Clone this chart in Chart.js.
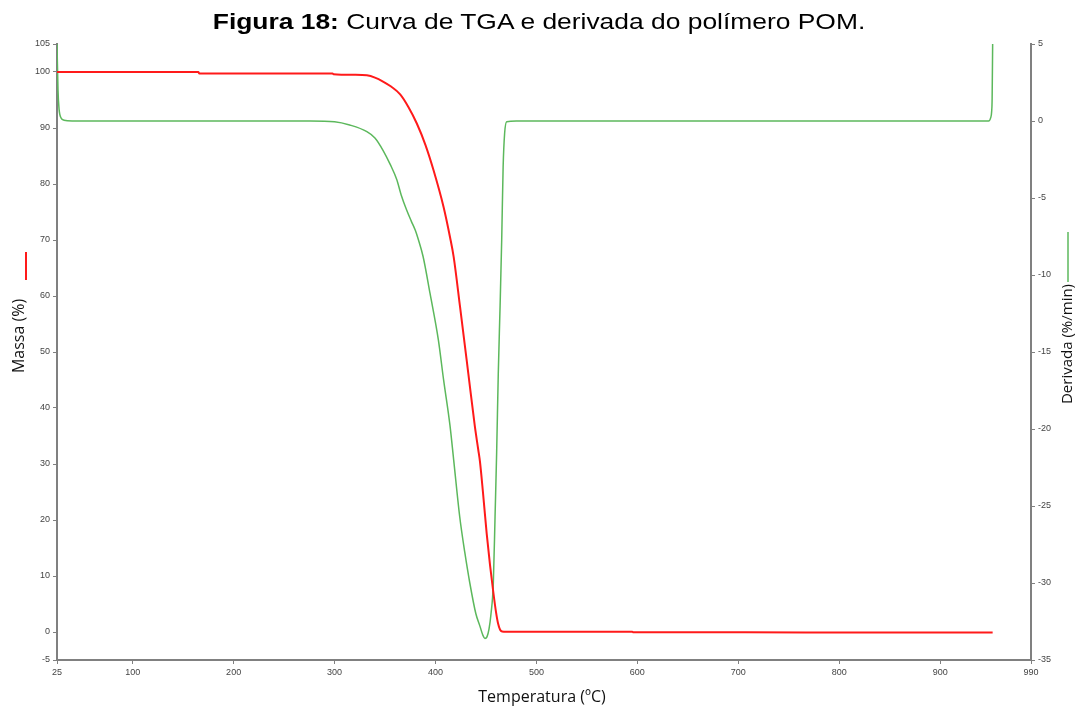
<!DOCTYPE html>
<html lang="pt">
<head>
    <meta charset="UTF-8" />
    <title>Figura 18 - TGA POM</title>
    <script src="https://cdn.jsdelivr.net/npm/chart.js"></script>
    <style>
        body { margin: 0; background: #fff; }
        .wrap { position: relative; width: 1080px; height: 708px; }
        .titulo { position: absolute; top: 9px; left: 0; width: 1080px; text-align: center;
                  font-family: 'Liberation Sans', Arial, sans-serif; font-size: 22px; color: #000;
                  transform: scaleX(1.2); transform-origin: 545px 0; }
        canvas { position: absolute; left: 0; top: 0; }
    </style>
</head>
<body>
<div class="wrap">
    <canvas id="tga" width="1080" height="708"></canvas>
    <div class="titulo"><b>Figura 18:</b> Curva de TGA e derivada do polímero POM.</div>
</div>
<script>
    // dados
    const massaTemp = [25, 165, 166, 298, 299, 320, 332, 340, 348, 356, 365, 373, 381.5, 390, 398, 408, 414.4, 418,
        424.3, 432.5, 439, 442.4, 444, 447, 450.7, 454, 457, 460, 462, 464, 466, 470, 595, 596, 700, 800, 900, 952];
    const massaValores = [100, 100, 99.75, 99.75, 99.6, 99.5, 99.4, 99.0, 98.3, 97.4, 96.0, 93.8, 90.8, 87.0, 82.5, 75.9, 70.5, 67,
        58.1, 46.2, 36.7, 32.5, 30.5, 25, 17.6, 12, 7.5, 3.5, 1.5, 0.4, 0.1, 0.05, 0.05, -0.05, -0.05, -0.08, -0.1, -0.1];

    const derivTemp = [25, 26, 27, 29, 32, 40, 100, 200, 276, 300, 315, 332, 340, 348, 355, 361.6, 366, 371.5, 376, 380, 383,
        387.7, 394.6, 402.8, 408, 414.4, 418, 424, 429, 434, 440, 444, 447, 449, 451, 453, 455, 457.3, 459, 460.6, 462.2,
        464, 465.6, 467, 468.5, 470.5, 480, 600, 800, 948, 950, 951, 951.5, 952];
    const derivValores = [5, 2, 0.8, 0.2, 0.05, 0, 0, 0, 0, -0.05, -0.26, -0.69, -1.1, -1.9, -2.8, -3.8, -4.8, -5.8, -6.5, -7.1, -7.7,
        -8.8, -11.2, -14.2, -16.8, -19.8, -22, -25.7, -28, -30, -32, -32.8, -33.4, -33.6, -33.5, -33, -32, -30, -25.7, -21.5, -16.4,
        -12, -7.7, -3, -0.8, -0.05, 0, 0, 0, 0, 0.2, 0.6, 1.5, 5];

    const xTicks = [25, 100, 200, 300, 400, 500, 600, 700, 800, 900, 990];
    const yTicks = [-5, 0, 10, 20, 30, 40, 50, 60, 70, 80, 90, 100, 105];
    const y1Ticks = [-35, -30, -25, -20, -15, -10, -5, 0, 5];

    const corMassa = '#ff1a1a';
    const corDeriv = '#5cb85c';
    const corEixo = '#808080';
    const fonteTick = { family: "'Liberation Sans', Arial, sans-serif", size: 9 };

    function pontos(xs, ys) {
        return xs.map((x, i) => ({ x: x, y: ys[i] }));
    }

    // titulos dos eixos + traço de cor da série
    const titulosEixos = {
        id: 'titulosEixos',
        afterDraw(chart) {
            const ctx = chart.ctx;
            ctx.save();
            ctx.lineWidth = 2;
            ctx.strokeStyle = corMassa;
            ctx.beginPath(); ctx.moveTo(26, 252); ctx.lineTo(26, 280); ctx.stroke();
            ctx.lineWidth = 1.5;
            ctx.strokeStyle = corDeriv;
            ctx.beginPath(); ctx.moveTo(1068, 232); ctx.lineTo(1068, 282); ctx.stroke();

            ctx.fillStyle = '#111';
            ctx.textAlign = 'center';
            ctx.textBaseline = 'middle';
            ctx.font = "16px 'Open Sans', sans-serif";
            ctx.translate(19, 336); ctx.rotate(-Math.PI / 2);
            ctx.fillText('Massa (%)', 0, 0);
            ctx.setTransform(1, 0, 0, 1, 0, 0);
            ctx.fillText('Temperatura (ºC)', 542, 697);
            ctx.font = "15px 'Open Sans', sans-serif";
            ctx.translate(1068, 344); ctx.rotate(-Math.PI / 2);
            ctx.fillText('Derivada (%/min)', 0, 0);
            ctx.restore();
        }
    };

    const eixoComum = {
        grid: { display: true, drawOnChartArea: false, drawTicks: true, tickLength: 4, color: corEixo },
        border: { display: true, color: corEixo, width: 2 },
        ticks: { color: '#444', font: fonteTick, padding: 3, autoSkip: false }
    };

    new Chart(document.getElementById('tga').getContext('2d'), {
        type: 'line',
        data: {
            datasets: [{
                label: 'Massa',
                data: pontos(massaTemp, massaValores),
                borderColor: corMassa,
                borderWidth: 2,
                pointRadius: 0,
                cubicInterpolationMode: 'monotone',
                yAxisID: 'y'
            }, {
                label: 'Derivada',
                data: pontos(derivTemp, derivValores),
                borderColor: corDeriv,
                borderWidth: 1.5,
                pointRadius: 0,
                cubicInterpolationMode: 'monotone',
                yAxisID: 'y1'
            }]
        },
        options: {
            responsive: false,
            animation: false,
            devicePixelRatio: 1,
            layout: { padding: { top: 44, left: 0, right: 0, bottom: 0 } },
            plugins: { legend: { display: false }, tooltip: { enabled: false } },
            scales: {
                x: {
                    ...eixoComum,
                    type: 'linear', min: 25, max: 990,
                    afterBuildTicks: s => { s.ticks = xTicks.map(v => ({ value: v })); },
                    afterFit: s => { s.height = 48; }
                },
                y: {
                    ...eixoComum,
                    position: 'left', min: -5, max: 105,
                    afterBuildTicks: s => { s.ticks = yTicks.map(v => ({ value: v })); },
                    afterFit: s => { s.width = 57; }
                },
                y1: {
                    ...eixoComum,
                    position: 'right', min: -35, max: 5,
                    afterBuildTicks: s => { s.ticks = y1Ticks.map(v => ({ value: v })); },
                    afterFit: s => { s.width = 49; }
                }
            }
        },
        plugins: [titulosEixos]
    });
</script>
</body>
</html>
